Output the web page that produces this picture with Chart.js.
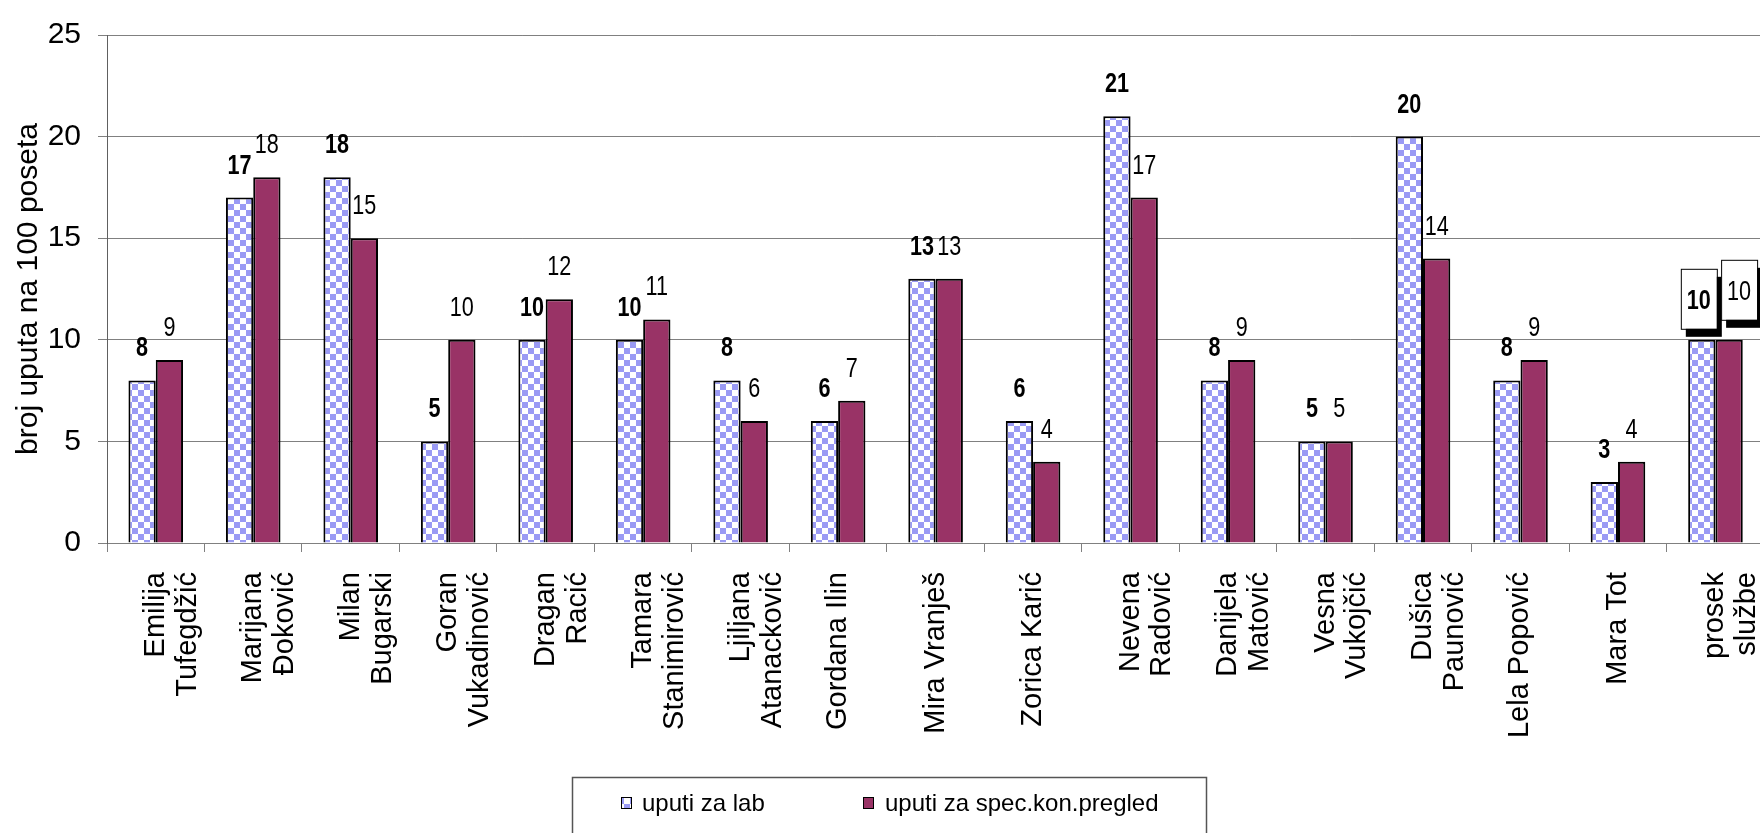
<!DOCTYPE html>
<html>
<head>
<meta charset="utf-8">
<script src="https://cdn.jsdelivr.net/npm/chart.js@4.4.1/dist/chart.umd.min.js"></script>
<style>
  html, body { margin: 0; padding: 0; background: #fff; overflow: hidden; }
  #omotac { width: 1800px; height: 833px; }
</style>
</head>
<body>
<div id="omotac"><canvas id="grafik" width="1800" height="833"></canvas></div>
<script>
// Podaci procitani sa slike
const kategorije = [
    ["Emilija", "Tufegdžić"], ["Marijana", "Đoković"], ["Milan", "Bugarski"],
    ["Goran", "Vukadinović"], ["Dragan", "Racić"], ["Tamara", "Stanimirović"],
    ["Ljiljana", "Atanacković"], "Gordana Ilin", "Mira Vranješ", "Zorica Karić",
    ["Nevena", "Radović"], ["Danijela", "Matović"], ["Vesna", "Vukojčić"],
    ["Dušica", "Paunović"], "Lela Popović", "Mara Tot", ["prosek", "službe"]
];
const uputiLab = [8, 17, 18, 5, 10, 10, 8, 6, 13, 6, 21, 8, 5, 20, 8, 3, 10];
const uputiSpec = [9, 18, 15, 10, 12, 11, 6, 7, 13, 4, 17, 9, 5, 14, 9, 4, 10];
const yPodeoci = [0, 5, 10, 15, 20, 25];
const nazivSerija = ["uputi za lab", "uputi za spec.kon.pregled"];
const naslovY = "broj uputa na 100 poseta";

const platno = document.getElementById("grafik");
const ctxGlavni = platno.getContext("2d");

// Sahovsko polje za prvu seriju (plavo / belo)
function napraviSah() {
    const c = document.createElement("canvas");
    c.width = 12; c.height = 12;
    const g = c.getContext("2d");
    g.fillStyle = "#ffffff";
    g.fillRect(0, 0, 12, 12);
    g.fillStyle = "#9a9af4";
    g.fillRect(0, 0, 6, 6);
    g.fillRect(6, 6, 6, 6);
    return ctxGlavni.createPattern(c, "repeat");
}
const sah = napraviSah();

const FONT = "'Liberation Sans', Arial, sans-serif";
const SUZENJE = 0.8; // oznake su uze, kao Arial Narrow

// uzi tekst: crta se sa horizontalnim skaliranjem
function uskiTekst(ctx, tekst, x, y) {
    ctx.save();
    ctx.translate(x, y);
    ctx.scale(SUZENJE, 1);
    ctx.fillText(tekst, 0, 0);
    ctx.restore();
}

// Oznake vrednosti iznad stubova
const oznakePlugin = {
    id: "oznake",
    afterDatasetsDraw(chart) {
        const ctx = chart.ctx;
        const poslednji = kategorije.length - 1;
        chart.data.datasets.forEach((ds, di) => {
            const meta = chart.getDatasetMeta(di);
            meta.data.forEach((bar, i) => {
                const tekst = String(ds.data[i]);
                ctx.save();
                ctx.font = (di === 0 ? "bold " : "") + "27px " + FONT;
                ctx.textAlign = "center";
                ctx.textBaseline = "alphabetic";
                let x = bar.x;
                let y = bar.y - 24;
                if (i === poslednji) {
                    // prosek ima oznake u belim kutijama sa senkom
                    const bx = di === 0 ? bar.x - 3 : bar.x + 10;
                    const top = di === 0 ? bar.y - 71 : bar.y - 80;
                    const w = 36, h = 60;
                    ctx.fillStyle = "#000";
                    ctx.fillRect(bx - w / 2 + 5, top + 8, w, h);
                    ctx.fillStyle = "#fff";
                    ctx.fillRect(bx - w / 2, top, w, h);
                    ctx.strokeStyle = "#000";
                    ctx.lineWidth = 1;
                    ctx.strokeRect(bx - w / 2 + 0.5, top + 0.5, w, h);
                    x = bx;
                    y = top + 40;
                }
                ctx.fillStyle = "#000";
                uskiTekst(ctx, tekst, x, y);
                ctx.restore();
            });
        });
    }
};

// Legenda u okviru ispod grafika
const legendaPlugin = {
    id: "legenda",
    afterDraw(chart) {
        const ctx = chart.ctx;
        ctx.save();
        ctx.strokeStyle = "#555";
        ctx.lineWidth = 1.5;
        ctx.strokeRect(572.5, 777.5, 634, 90);
        const pozicije = [{ kx: 621, tx: 642 }, { kx: 863, tx: 885 }];
        chart.data.datasets.forEach((ds, di) => {
            const p = pozicije[di];
            ctx.fillStyle = ds.backgroundColor;
            ctx.fillRect(p.kx, 797, 10, 11);
            ctx.strokeStyle = "#000";
            ctx.lineWidth = 1;
            ctx.strokeRect(p.kx + 0.5, 797.5, 10, 11);
            ctx.fillStyle = "#000";
            ctx.font = "24px " + FONT;
            ctx.textAlign = "left";
            ctx.textBaseline = "alphabetic";
            ctx.fillText(ds.label, p.tx, 811);
        });
        ctx.restore();
    }
};

new Chart(platno, {
    type: "bar",
    data: {
        labels: kategorije,
        datasets: [
            {
                label: nazivSerija[0],
                data: uputiLab,
                backgroundColor: sah,
                borderColor: "#000",
                borderWidth: 2,
                categoryPercentage: 0.56,
                barPercentage: 1
            },
            {
                label: nazivSerija[1],
                data: uputiSpec,
                backgroundColor: "#993366",
                borderColor: "#000",
                borderWidth: 2,
                categoryPercentage: 0.56,
                barPercentage: 1
            }
        ]
    },
    options: {
        responsive: false,
        devicePixelRatio: 1,
        animation: false,
        layout: { padding: { left: 0, top: 27, right: 25, bottom: 0 } },
        plugins: {
            legend: { display: false },
            tooltip: { enabled: false }
        },
        scales: {
            x: {
                grid: { display: true, drawOnChartArea: false, tickLength: 9, color: "#808080", offset: true },
                border: { color: "#808080", width: 1 },
                ticks: {
                    autoSkip: false,
                    maxRotation: 90,
                    minRotation: 90,
                    padding: 20,
                    color: "#000",
                    font: { family: FONT, size: 29, lineHeight: 1.1 }
                },
                afterFit: (s) => { s.height = 290; }
            },
            y: {
                min: 0,
                max: 25,
                afterBuildTicks: (s) => { s.ticks = yPodeoci.map(v => ({ value: v })); },
                ticks: { padding: 17, color: "#000", font: { family: FONT, size: 30 } },
                grid: { color: "#808080", tickLength: 9 },
                border: { color: "#606060", width: 1 },
                title: {
                    display: true,
                    text: naslovY,
                    color: "#000",
                    font: { family: FONT, size: 30 },
                    padding: { top: 11, bottom: 0 }
                },
                afterFit: (s) => { s.width = 107; }
            }
        }
    },
    plugins: [oznakePlugin, legendaPlugin]
});
</script>
</body>
</html>
